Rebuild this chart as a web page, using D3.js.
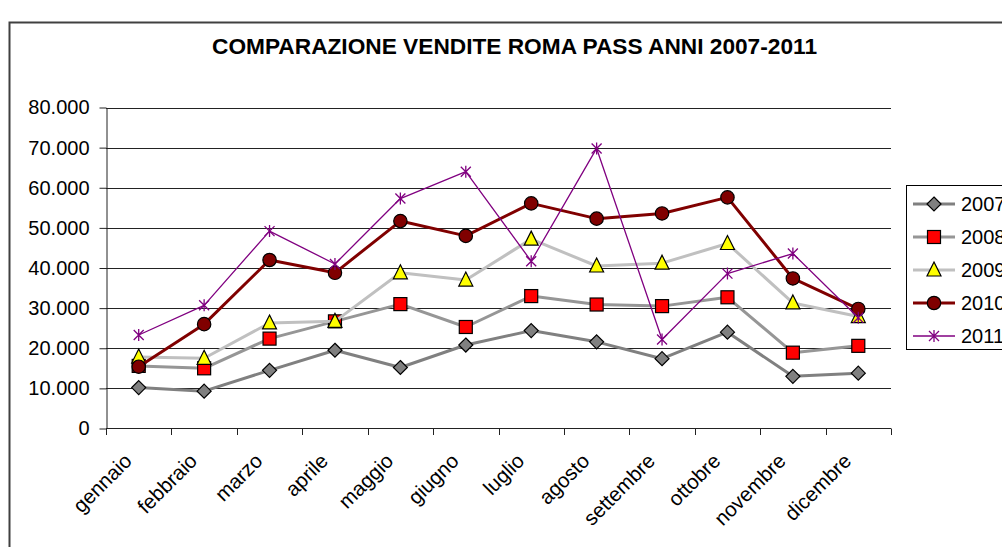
<!DOCTYPE html>
<html>
<head>
<meta charset="utf-8">
<title>Comparazione vendite Roma Pass</title>
<script src="https://d3js.org/d3.v7.min.js"></script>
<style>
  body { margin: 0; background: white; }
  svg text { font-family: Arial, "Liberation Sans", sans-serif; fill: #000; }
</style>
</head>
<body>
<div id="chart"></div>
<script>
// data
var months = ["gennaio", "febbraio", "marzo", "aprile", "maggio", "giugno",
  "luglio", "agosto", "settembre", "ottobre", "novembre", "dicembre"];
var years = ["2007", "2008", "2009", "2010", "2011"];
var v2007 = [10200, 9300, 14500, 19500, 15200, 20800, 24400, 21600, 17400, 24000, 13000, 13800];
var v2008 = [15600, 15000, 22400, 26700, 31000, 25300, 33000, 30900, 30500, 32700, 18900, 20600];
var v2009 = [17800, 17500, 26300, 26700, 38800, 37000, 47200, 40500, 41200, 46100, 31300, 27900];
var v2010 = [15400, 26000, 42000, 38800, 51700, 48000, 56100, 52300, 53600, 57600, 37400, 29800];
var v2011 = [23300, 30700, 49200, 41000, 57300, 64000, 41700, 69800, 22200, 38600, 43600, 27600];
var yTicks = [0, 10000, 20000, 30000, 40000, 50000, 60000, 70000, 80000];
var chartTitle = "COMPARAZIONE VENDITE ROMA PASS ANNI 2007-2011";

var seriesValues = [v2007, v2008, v2009, v2010, v2011];

// styles per series
var lineColors = ["#808080", "#969696", "#c0c0c0", "#800000", "#800080"];
var lineWidths = [3, 3, 3, 3, 1.3];
var markerFills = ["#808080", "#ff0000", "#ffff00", "#800000", "none"];
var markerKinds = ["diamond", "square", "triangle", "circle", "star"];

var width = 1002, height = 547;
var svg = d3.select("#chart").append("svg")
  .attr("width", width)
  .attr("height", height);

// outer chart border
svg.append("rect")
  .attr("x", 9.5).attr("y", 22.5)
  .attr("width", 1100).attr("height", 600)
  .style("fill", "white")
  .style("stroke", "#404040")
  .style("stroke-width", 2);

// title
svg.append("text")
  .attr("x", 514.5).attr("y", 54)
  .attr("text-anchor", "middle")
  .attr("textLength", 605)
  .attr("lengthAdjust", "spacingAndGlyphs")
  .style("font-size", "22px")
  .style("font-weight", "bold")
  .text(chartTitle);

// scales
var x = d3.scaleBand().domain(months).range([106, 891]);
var y = d3.scaleLinear().domain([0, 80000]).range([428.5, 107.5]);
function cx(i) { return x(months[i]) + x.bandwidth() / 2; }

var itFormat = d3.formatLocale({ decimal: ",", thousands: ".", grouping: [3], currency: ["€", ""] }).format(",");

// gridlines
svg.append("g").selectAll("line")
  .data(yTicks.filter(function(d) { return d > 0; }))
  .enter().append("line")
  .attr("x1", 106).attr("x2", 891)
  .attr("y1", function(d) { return Math.round(y(d)) + 0.5; })
  .attr("y2", function(d) { return Math.round(y(d)) + 0.5; })
  .style("stroke", "#222")
  .style("stroke-width", 1);

// y axis
var yAxis = svg.append("g")
  .attr("transform", "translate(106.5,0)")
  .call(d3.axisLeft(y).tickValues(yTicks).tickSize(7).tickSizeOuter(0).tickPadding(10).tickFormat(itFormat));
yAxis.select(".domain").style("stroke", "#222");
yAxis.selectAll(".tick line").style("stroke", "#222");
yAxis.selectAll("text").style("font-size", "20px").style("font-family", "Arial, 'Liberation Sans', sans-serif");

// x axis line + ticks at band edges
var xAxis = svg.append("g");
xAxis.append("line")
  .attr("x1", 106).attr("x2", 891)
  .attr("y1", 428.5).attr("y2", 428.5)
  .style("stroke", "#222");
var edges = months.map(function(m) { return x(m); }).concat([x.range()[1]]);
xAxis.selectAll(".xt").data(edges).enter().append("line")
  .attr("class", "xt")
  .attr("x1", function(d) { return Math.round(d) + 0.5; })
  .attr("x2", function(d) { return Math.round(d) + 0.5; })
  .attr("y1", 428.5).attr("y2", 435)
  .style("stroke", "#222");
xAxis.selectAll(".xl").data(months).enter().append("text")
  .attr("class", "xl")
  .attr("transform", function(d, i) { return "translate(" + (cx(i) - 16) + ",452) rotate(-45)"; })
  .attr("text-anchor", "end")
  .attr("dy", "0.71em")
  .style("font-size", "20.5px")
  .text(function(d) { return d; });

// markers
function drawMarker(g, kind, fill, color) {
  if (kind == "diamond") {
    g.append("path").attr("d", "M0,-7L7,0L0,7L-7,0Z")
      .style("fill", fill).style("stroke", "#000").style("stroke-width", 1.2);
  } else if (kind == "square") {
    g.append("rect").attr("x", -6.5).attr("y", -6.5).attr("width", 13).attr("height", 13)
      .style("fill", fill).style("stroke", "#000").style("stroke-width", 1.2);
  } else if (kind == "triangle") {
    g.append("path").attr("d", "M0,-8L7,6L-7,6Z")
      .style("fill", fill).style("stroke", "#000").style("stroke-width", 1.2);
  } else if (kind == "circle") {
    g.append("circle").attr("r", 6.7)
      .style("fill", fill).style("stroke", "#000").style("stroke-width", 1.2);
  } else {
    g.append("path").attr("d", "M0,-6L0,6M-5,-5L5,5M-5,5L5,-5")
      .style("fill", "none").style("stroke", color).style("stroke-width", 1.3);
  }
}

var line = d3.line()
  .x(function(d, i) { return cx(i); })
  .y(function(d) { return y(d); });

seriesValues.forEach(function(vals, s) {
  var g = svg.append("g");
  g.append("path")
    .datum(vals)
    .attr("d", line)
    .style("fill", "none")
    .style("stroke", lineColors[s])
    .style("stroke-width", lineWidths[s])
    .style("stroke-linejoin", "round");
  vals.forEach(function(v, i) {
    var mg = g.append("g").attr("transform", "translate(" + cx(i) + "," + y(v) + ")");
    drawMarker(mg, markerKinds[s], markerFills[s], lineColors[s]);
  });
});

// legend (box runs past the right edge, as in the original)
var legend = svg.append("g");
legend.append("rect")
  .attr("x", 906.5).attr("y", 185.5)
  .attr("width", 200).attr("height", 164)
  .style("fill", "white")
  .style("stroke", "#000");
years.forEach(function(yr, s) {
  var ly = 204 + s * 33;
  legend.append("line")
    .attr("x1", 913).attr("x2", 955)
    .attr("y1", ly).attr("y2", ly)
    .style("stroke", lineColors[s])
    .style("stroke-width", lineWidths[s]);
  var mg = legend.append("g").attr("transform", "translate(934," + ly + ")");
  drawMarker(mg, markerKinds[s], markerFills[s], lineColors[s]);
  legend.append("text")
    .attr("x", 961).attr("y", ly + 7)
    .style("font-size", "20px")
    .text(yr);
});
</script>
</body>
</html>
